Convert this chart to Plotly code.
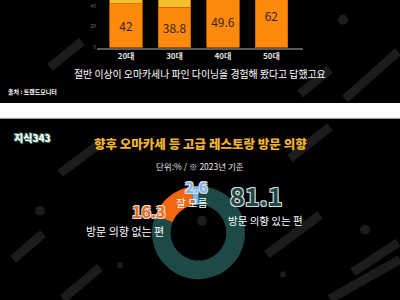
import plotly.graph_objects as go

# ---- data ----
categories = ["20대", "30대", "40대", "50대"]
experienced = [42, 38.8, 49.6, 62]          # orange segment
not_experienced = [22, 25, 14, 10]           # yellow segment (mostly cropped)
y_ticks = [0, 20, 40]

donut_labels = ["방문 의향 있는 편", "방문 의향 없는 편", "잘 모름"]
donut_values = [81.1, 16.3, 2.6]
donut_colors = ["#1d4a46", "#f2680f", "#7cb4ec"]

caption = "절반 이상이 오마카세나 파인 다이닝을 경험해 봤다고 답했고요"
source = "출처 : 트렌드모니터"
title2 = "향후 오마카세 등 고급 레스토랑 방문 의향"
subtitle2 = "단위:% / ※ 2023년 기준"
logo = "지식343"

KR = "Noto Sans CJK KR"
W, H = 400, 300

def py(px):
    return 1 - px / H

fig = go.Figure()

fig.add_trace(go.Bar(
    x=categories, y=experienced, marker=dict(color="#fd8a0c", line=dict(color="#c96400", width=0.8)),
    text=[f"{v:g}" for v in experienced], textposition="inside", insidetextanchor="middle",
    textfont=dict(family=KR, size=12, color="#3a2410"), width=0.67, showlegend=False,
))
fig.add_trace(go.Bar(
    x=categories, y=not_experienced, marker=dict(color="#f6c02d", line=dict(color="#c96400", width=0.8)),
    width=0.67, showlegend=False, textposition="none",
))

fig.add_trace(go.Pie(
    labels=donut_labels, values=donut_values, hole=0.6, sort=False, direction="clockwise",
    rotation=0, marker=dict(colors=donut_colors, line=dict(width=0)), textinfo="none",
    showlegend=False, hoverinfo="skip",
    domain=dict(x=[151.5 / W, 245.5 / W], y=[py(282), py(188)]),
))

# decorative background streaks
streaks = [
    (50, 68, 82, 42), (345, 100, 398, 52), (300, 95, 330, 70),
    (13, 262, 43, 236), (63, 302, 100, 270), (267, 257, 320, 217),
    (353, 275, 398, 245), (330, 302, 400, 262), (60, 175, 100, 145),
    (290, 160, 330, 128),
]
shapes = []
for x0, y0, x1, y1 in streaks:
    shapes.append(dict(type="line", xref="paper", yref="paper", x0=x0 / W, y0=py(y0), x1=x1 / W, y1=py(y1),
                       line=dict(color="#1c1c1c", width=9), layer="below"))
for cx, cy, r in [(40, 213, 5), (202, 223, 5), (365, 232, 5), (343, 20, 5), (283, 277, 3), (120, 268, 3)]:
    shapes.append(dict(type="circle", xref="paper", yref="paper", x0=(cx - r) / W, x1=(cx + r) / W,
                       y0=py(cy + r), y1=py(cy - r), fillcolor="#1c1c1c", line=dict(width=0), layer="below"))
# white separator band
shapes.append(dict(type="rect", xref="paper", yref="paper", x0=0, x1=1, y0=py(120), y1=py(104),
                   fillcolor="#ffffff", line=dict(width=0), layer="above"))
shapes.append(dict(type="line", xref="paper", yref="paper", x0=0, x1=1, y0=py(119.5), y1=py(119.5),
                   line=dict(color="#9a9a9a", width=1), layer="above"))

outline = "1px 1px 0 #ddd, -1px -1px 0 #ddd, 1px -1px 0 #ddd, -1px 1px 0 #ddd"

def ann(text, x, y, size, color, weight=400, shadow="none"):
    return dict(text=text, x=x / W, y=py(y), xref="paper", yref="paper", showarrow=False,
                xanchor="center", yanchor="middle",
                font=dict(family=KR, size=size, color=color, weight=weight, shadow=shadow))

annotations = [
    ann(caption, 200, 75, 9.9, "#ffffff"),
    dict(ann(source, 6, 92, 6, "#ffffff", 700), xanchor="left", x=6 / W),
    dict(ann(logo, 12, 139, 10, "#ffffff", 900, "1px 1px 0 #2f6f55, -1px -1px 0 #2f6f55"), xanchor="left", x=12 / W),
    ann(title2, 200, 145, 12.5, "#f2b430", 900),
    ann(subtitle2, 200, 168, 8.5, "#e8e8e8"),
    ann(f"{donut_values[0]:g}", 256, 197, 25, donut_colors[0], 700, outline),
    ann(donut_labels[0], 265, 223, 10.5, "#ffffff"),
    ann(f"{donut_values[1]:g}", 149, 213, 16, donut_colors[1], 700, outline),
    ann(donut_labels[1], 125, 233, 11, "#ffffff"),
    ann(f"{donut_values[2]:g}", 196, 188, 15, donut_colors[2], 700, outline),
    ann(donut_labels[2], 192, 205, 10.5, "#ffffff"),
]

fig.update_layout(
    width=W, height=H, margin=dict(l=0, r=0, t=0, b=0),
    paper_bgcolor="#000000", plot_bgcolor="rgba(0,0,0,0)",
    barmode="stack", bargap=0.33,
    xaxis=dict(domain=[97 / W, 303 / W], range=[-0.6, 3.65], showgrid=False, zeroline=False,
               showline=True, linecolor="#5a5a5a", linewidth=2, ticks="",
               tickfont=dict(family=KR, size=8, color="#e0e0e0", weight=700)),
    yaxis=dict(domain=[py(48), 1], range=[0, 48 / 1.05], showgrid=False, zeroline=False,
               tickvals=y_ticks, tickfont=dict(family=KR, size=5, color="#707070"), ticks=""),
    shapes=shapes, annotations=annotations,
)

fig.write_html("out.html")
